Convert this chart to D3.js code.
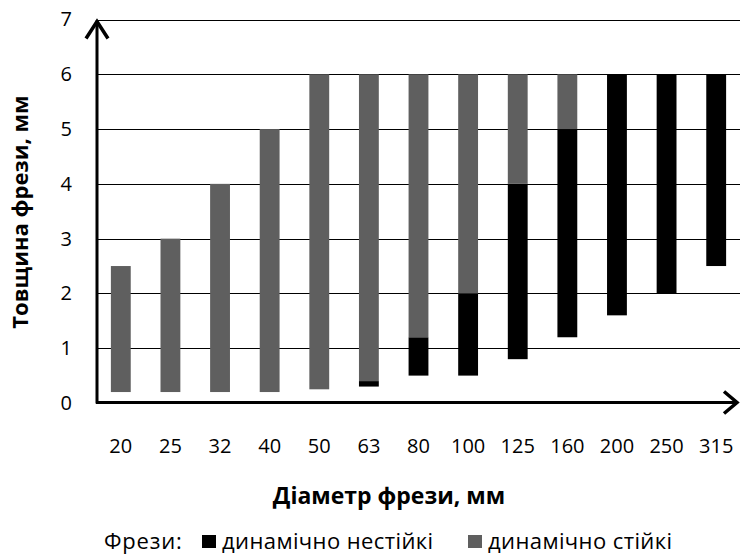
<!DOCTYPE html>
<html>
<head>
<meta charset="utf-8">
<script src="https://cdn.jsdelivr.net/npm/d3@7"></script>
<style>
  body { margin: 0; background: #fff; }
  svg { display: block; font-family: "Open Sans", sans-serif; }
</style>
</head>
<body>
<script>
// diameters of the cutters, mm
var categories = ["20","25","32","40","50","63","80","100","125","160","200","250","315"];
// invisible offset under each bar
var baseVals     = [0.2, 0.2, 0.2, 0.2, 0.25, 0.3, 0.5, 0.5, 0.8, 1.2, 1.6, 2.0, 2.5];
// dynamically unstable part (black)
var unstableVals = [0, 0, 0, 0, 0, 0.1, 0.7, 1.5, 3.2, 3.8, 4.4, 4.0, 3.5];
// dynamically stable part (gray)
var stableVals   = [2.3, 2.8, 3.8, 4.8, 5.75, 5.6, 4.8, 4.0, 2.0, 1.0, 0, 0, 0];
var yTicks = [0,1,2,3,4,5,6,7];

var width = 740, height = 555;
var plotLeft = 96, plotRight = 741, plotTop = 19.5, plotBottom = 403;

var svg = d3.select("body").append("svg")
    .attr("width", width)
    .attr("height", height);

var table = categories.map(function (c, i) {
    return {cat: c, base: baseVals[i], unstable: unstableVals[i], stable: stableVals[i]};
});

var x = d3.scaleBand()
    .domain(categories)
    .range([plotLeft, plotRight])
    .paddingInner(0.6)
    .paddingOuter(0.3);

var y = d3.scaleLinear()
    .domain([0, 7])
    .range([plotBottom, plotTop]);

// grid lines
svg.append("g").selectAll("line")
    .data(yTicks.slice(1))
    .enter().append("line")
    .attr("x1", plotLeft).attr("x2", plotRight)
    .attr("y1", function (d) { return Math.round(y(d)) + 0.5; })
    .attr("y2", function (d) { return Math.round(y(d)) + 0.5; })
    .attr("stroke", "#000")
    .attr("stroke-width", 1.2);

// stacked bars
var stack = d3.stack().keys(["base", "unstable", "stable"]);
var series = stack(table);
var colors = {base: "none", unstable: "#000000", stable: "#5f5f5f"};

svg.append("g").selectAll("g")
    .data(series)
    .enter().append("g")
    .attr("fill", function (s) { return colors[s.key]; })
    .selectAll("rect")
    .data(function (s) { return s; })
    .enter().append("rect")
    .attr("x", function (d) { return x(d.data.cat); })
    .attr("width", x.bandwidth())
    .attr("y", function (d) { return y(d[1]); })
    .attr("height", function (d) { return y(d[0]) - y(d[1]); });

// y axis, tick labels only
var yAxis = d3.axisLeft(y).tickValues(yTicks).tickFormat(d3.format("d"))
    .tickSize(0).tickPadding(0);
var gy = svg.append("g")
    .attr("transform", "translate(72,0)")
    .call(yAxis);
gy.select(".domain").remove();
gy.selectAll("text").attr("font-size", 20).attr("fill", "#000")
    .attr("font-family", "Open Sans, sans-serif");

// x axis, tick labels only
var xAxis = d3.axisBottom(x).tickSize(0).tickPadding(0);
var gx = svg.append("g")
    .attr("transform", "translate(0,439)")
    .call(xAxis);
gx.select(".domain").remove();
gx.selectAll("text").attr("font-size", 20).attr("fill", "#000")
    .attr("font-family", "Open Sans, sans-serif");

// axis lines with arrows
var ax = plotLeft + 1, ay = plotBottom - 0.5;
svg.append("line")
    .attr("x1", ax).attr("x2", ax)
    .attr("y1", ay + 1).attr("y2", y(7) + 1)
    .attr("stroke", "#000").attr("stroke-width", 3);
svg.append("path")
    .attr("d", "M" + (ax - 11) + "," + (y(7) + 19) + "L" + ax + "," + (y(7) + 2) + "L" + (ax + 11) + "," + (y(7) + 19))
    .attr("fill", "none").attr("stroke", "#000").attr("stroke-width", 3.5);
svg.append("line")
    .attr("x1", ax - 1).attr("x2", 737)
    .attr("y1", ay).attr("y2", ay)
    .attr("stroke", "#000").attr("stroke-width", 3);
svg.append("path")
    .attr("d", "M724," + (ay - 11) + "L737," + ay + "L724," + (ay + 11))
    .attr("fill", "none").attr("stroke", "#000").attr("stroke-width", 3.5);

// axis titles
svg.append("text")
    .attr("transform", "translate(28,212) rotate(-90)")
    .attr("text-anchor", "middle")
    .attr("font-size", 22).attr("font-weight", "bold")
    .text("Товщина фрези, мм");

svg.append("text")
    .attr("x", 389).attr("y", 504)
    .attr("text-anchor", "middle")
    .attr("font-size", 23).attr("font-weight", "bold")
    .text("Діаметр фрези, мм");

// legend
var lg = svg.append("g").attr("font-size", 22);
lg.append("text").attr("x", 104).attr("y", 549).attr("letter-spacing", 0.8).text("Фрези:");
var legendItems = [
    {label: "динамічно нестійкі", color: colors.unstable, x: 202},
    {label: "динамічно стійкі", color: colors.stable, x: 468}
];
legendItems.forEach(function (it) {
    lg.append("rect").attr("x", it.x).attr("y", 535).attr("width", 14).attr("height", 13).attr("fill", it.color);
    lg.append("text").attr("x", it.x + 20).attr("y", 549).attr("letter-spacing", 0.4).text(it.label);
});
</script>
</body>
</html>
